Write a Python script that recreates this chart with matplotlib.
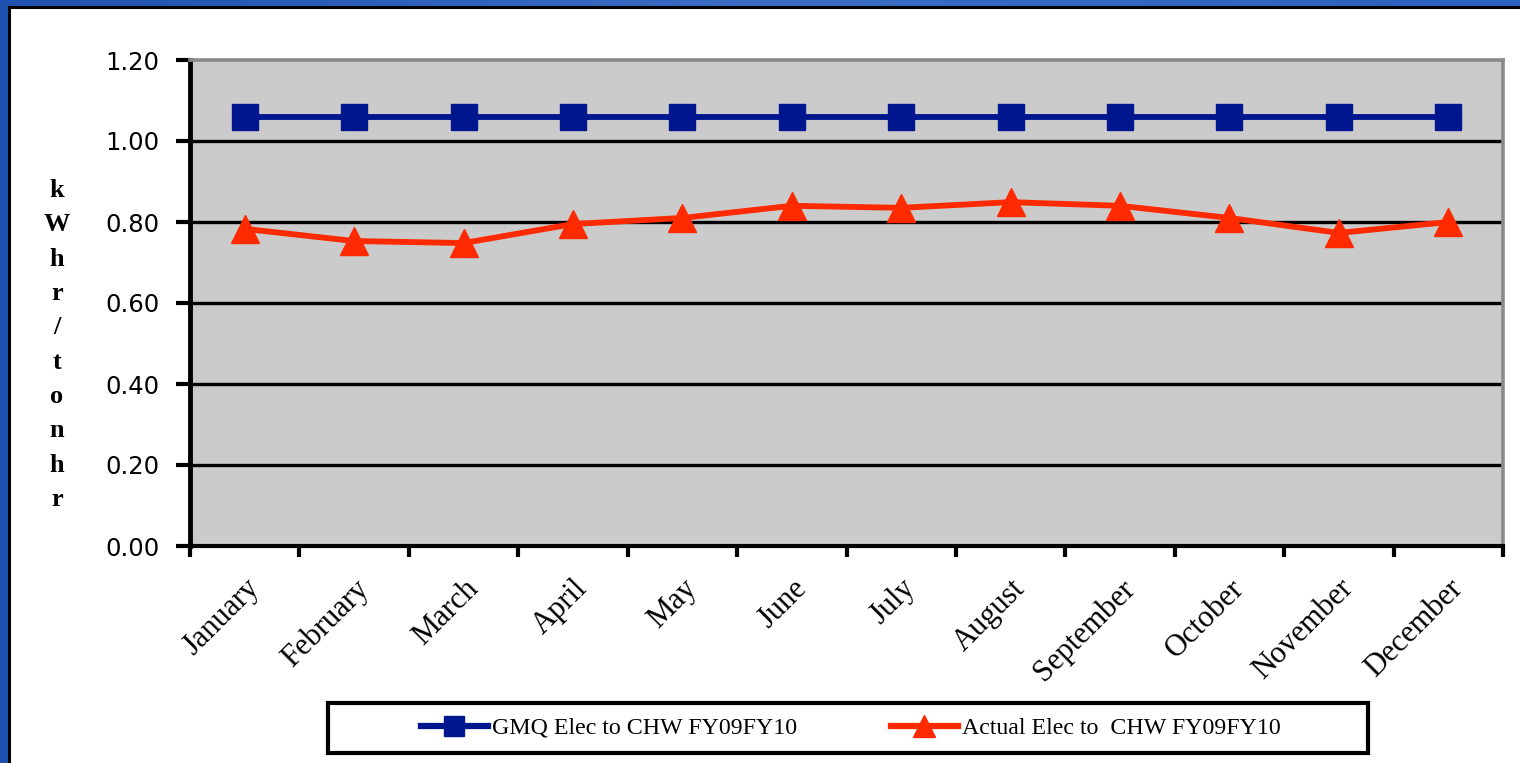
import matplotlib
matplotlib.use("Agg")
import matplotlib.pyplot as plt
from matplotlib.patches import Rectangle
from matplotlib.lines import Line2D
import numpy as np

months = ["January", "February", "March", "April", "May", "June", "July",
          "August", "September", "October", "November", "December"]
gmq = [1.06] * 12
actual = [0.783, 0.753, 0.748, 0.795, 0.810, 0.840, 0.835, 0.849, 0.840, 0.810, 0.773, 0.800]
yticks = [0.0, 0.2, 0.4, 0.6, 0.8, 1.0, 1.2]
series_names = ["GMQ Elec to CHW FY09FY10", "Actual Elec to  CHW FY09FY10"]
ylabel = "kWhr/tonhr"

W, H = 1520, 763
fig = plt.figure(figsize=(W / 100, H / 100), dpi=100)

# blue frame background with gradient
bg = fig.add_axes([0, 0, 1, 1], zorder=-10)
grad = np.linspace(0, 1, 256).reshape(1, -1)
bg.imshow(np.vstack([grad, grad]), extent=[0, 1, 0, 1], aspect='auto',
          cmap=matplotlib.colors.LinearSegmentedColormap.from_list("b", ["#1f52b0", "#3a6ec4", "#2a62c0"]))
bg.set_xlim(0, 1); bg.set_ylim(0, 1)
bg.axis('off')
bg.add_patch(Rectangle((9 / W, -0.05), 1.1, 1 - 7 / H + 0.05, facecolor='white',
                       edgecolor='black', linewidth=2.2, zorder=2))

BLUE = '#00168f'
RED = '#ff2a00'

ax = fig.add_axes([190 / W, 1 - 546 / H, (1503 - 190) / W, (546 - 60) / H])
ax.set_facecolor('#cbcbcb')
x = np.arange(len(months))
ax.plot(x, gmq, color=BLUE, lw=4.2, marker='s', markersize=18.5, zorder=5,
        solid_joinstyle='round')
ax.plot(x, actual, color=RED, lw=4.2, marker='^', markersize=20, zorder=5,
        solid_joinstyle='round')

ax.set_xlim(-0.5, len(months) - 0.5)
ax.set_ylim(0, 1.2)
ax.set_yticks(yticks)
ax.set_yticklabels([f"{v:.2f}" for v in yticks], fontsize=17.5, family='DejaVu Sans')
for v in yticks[1:-1]:
    ax.axhline(v, color='black', lw=2.4, zorder=1)

ax.set_xticks(x)
ax.set_xticklabels(months, rotation=45, ha='right', rotation_mode='anchor',
                   fontsize=22, family='Liberation Serif')
ax.set_xticks(np.arange(-0.5, len(months), 1), minor=True)
ax.tick_params(axis='x', which='major', length=0, pad=20)
ax.tick_params(axis='x', which='minor', length=8, width=3, direction='out', color='black')
ax.tick_params(axis='y', length=10, width=3, direction='out', color='black', pad=12)

for s in ['top', 'right']:
    ax.spines[s].set_color('#8a8a8a')
    ax.spines[s].set_linewidth(2.6)
ax.spines['left'].set_color('black')
ax.spines['left'].set_linewidth(3.5)
ax.spines['bottom'].set_color('black')
ax.spines['bottom'].set_linewidth(3.0)

# vertical y label
fig.text(57 / W, 1 - 345 / H, "\n".join(ylabel), ha='center', va='center',
         fontsize=19, fontweight='bold', family='Liberation Serif', linespacing=1.63)

# legend box
fig.patches.append(Rectangle((328 / W, 1 - 753 / H), 1040 / W, 50 / H, transform=fig.transFigure,
                             facecolor='white', edgecolor='black', linewidth=3, zorder=3))
handles = [Line2D([], [], color=BLUE, lw=4.5, marker='s', markersize=15),
           Line2D([], [], color=RED, lw=4.5, marker='^', markersize=16)]
leg = fig.legend(handles, series_names, loc='center', bbox_to_anchor=(851 / W, 1 - 728 / H),
                 ncol=2, frameon=False, prop={'family': 'Liberation Serif', 'size': 17.2},
                 handlelength=2.8, handletextpad=0.2, columnspacing=3.9)
leg.set_zorder(4)

fig.savefig("out.png", dpi=100)
